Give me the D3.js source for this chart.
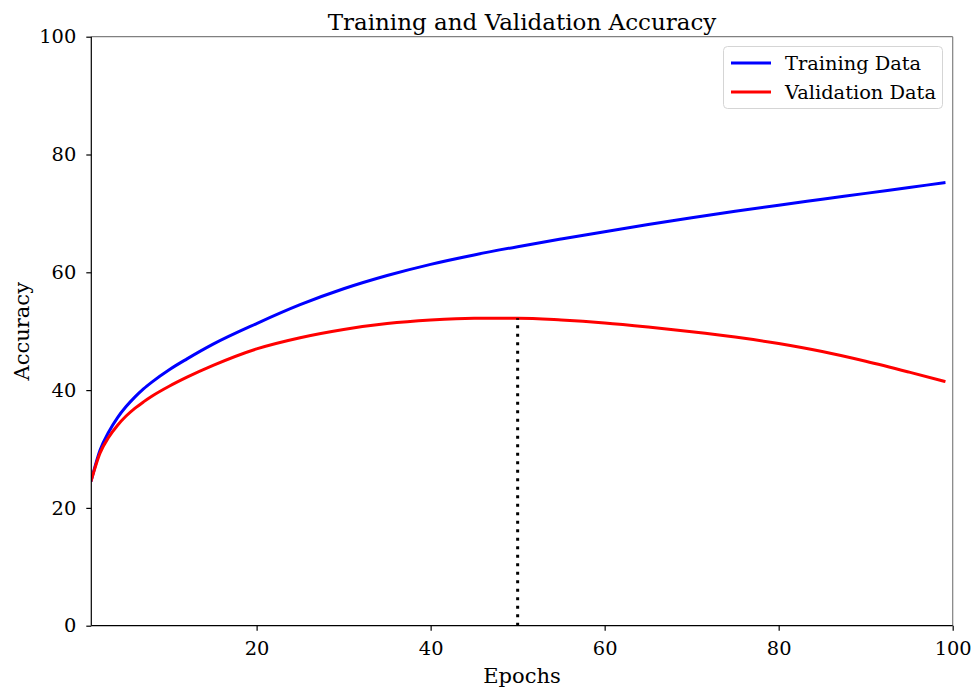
<!DOCTYPE html>
<html>
<head>
<meta charset="utf-8">
<script src="https://cdn.jsdelivr.net/npm/d3@7"></script>
<style>
  html, body { margin: 0; padding: 0; background: #fff; }
  svg { display: block; font-family: "DejaVu Serif", serif; }
</style>
</head>
<body>
<svg id="chart" width="973" height="689"></svg>
<script>
// ---- Data ----
const epochs = [1, 2, 3, 4, 5, 6, 7, 8, 10, 12, 15, 20, 25, 30, 35, 40, 45, 50, 55, 60, 65, 70, 75, 80, 85, 90, 95, 99];
const trainingAcc = [24.7, 29.8, 32.9, 35.3, 37.2, 38.8, 40.2, 41.4, 43.5, 45.3, 47.8, 51.3, 54.5, 57.2, 59.45, 61.35, 62.95, 64.35, 65.65, 66.9, 68.1, 69.25, 70.35, 71.4, 72.4, 73.4, 74.4, 75.2];
const validationAcc = [24.7, 29.3, 32.0, 34.0, 35.6, 36.9, 38.0, 39.0, 40.7, 42.2, 44.2, 47.0, 48.9, 50.3, 51.3, 51.9, 52.2, 52.2, 51.9, 51.4, 50.7, 49.9, 49.0, 47.9, 46.55, 44.9, 43.05, 41.5];
const bestEpoch = 50;
const bestValAcc = 52.2;
const xTicks = [20, 40, 60, 80, 100];
const yTicks = [0, 20, 40, 60, 80, 100];
const seriesNames = ["Training Data", "Validation Data"];
const seriesColors = ["#0000ff", "#ff0000"];
const titleText = "Training and Validation Accuracy";
const xLabel = "Epochs";
const yLabel = "Accuracy";

// ---- Layout ----
const svg = d3.select("#chart");
const pL = 91.3, pR = 952.7, pT = 36.7, pB = 625.7;

const x = d3.scaleLinear().domain([1, 100]).range([pL, pR]);
const y = d3.scaleLinear().domain([0, 100]).range([pB, pT]);

// plot background
svg.append("rect").attr("x", pL).attr("y", pT)
  .attr("width", pR - pL).attr("height", pB - pT).attr("fill", "#fff");

// top and right spines (gray)
svg.append("line").attr("x1", pL).attr("x2", pR).attr("y1", pT).attr("y2", pT)
  .attr("stroke", "#808080").attr("stroke-width", 1.2);
svg.append("line").attr("x1", pR).attr("x2", pR).attr("y1", pT).attr("y2", pB)
  .attr("stroke", "#808080").attr("stroke-width", 1.2);

// clip
svg.append("clipPath").attr("id", "clip").append("rect")
  .attr("x", pL).attr("y", pT).attr("width", pR - pL).attr("height", pB - pT);

// series
const series = [trainingAcc, validationAcc];
const line = d3.line()
  .x((d, i) => x(epochs[i]))
  .y(d => y(d))
  .curve(d3.curveMonotoneX);

series.forEach((vals, k) => {
  svg.append("path")
    .datum(vals)
    .attr("d", line)
    .attr("fill", "none")
    .attr("stroke", seriesColors[k])
    .attr("stroke-width", 3)
    .attr("stroke-linecap", "square")
    .attr("clip-path", "url(#clip)");
});

// dotted vertical line at best epoch
svg.append("line")
  .attr("x1", x(bestEpoch)).attr("x2", x(bestEpoch))
  .attr("y1", y(0)).attr("y2", y(bestValAcc))
  .attr("stroke", "#000").attr("stroke-width", 3)
  .attr("stroke-dasharray", "3,5.5");

// axes
const xAxis = d3.axisBottom(x).tickValues(xTicks).tickSize(5).tickPadding(11).tickFormat(d3.format("d"));
const yAxis = d3.axisLeft(y).tickValues(yTicks).tickSize(5).tickPadding(10).tickFormat(d3.format("d"));

const gx = svg.append("g").attr("transform", `translate(0,${pB})`).call(xAxis);
const gy = svg.append("g").attr("transform", `translate(${pL},0)`).call(yAxis);

[gx, gy].forEach(g => {
  g.select(".domain").attr("stroke", "#000").attr("stroke-width", 1.2);
  g.selectAll(".tick line").attr("stroke", "#000").attr("stroke-width", 1.2);
  g.selectAll(".tick text").attr("fill", "#000")
    .style("font-family", "'DejaVu Serif', serif").style("font-size", "19.4px");
});
gx.select(".domain").attr("d", `M${pL},0H${pR}`);
gy.select(".domain").attr("d", `M0,${pB}V${pT}`);

// title
svg.append("text").attr("x", (pL + pR) / 2).attr("y", 30)
  .attr("text-anchor", "middle").style("font-size", "23px").attr("fill", "#000")
  .text(titleText);

// axis labels
svg.append("text").attr("x", (pL + pR) / 2).attr("y", 683)
  .attr("text-anchor", "middle").style("font-size", "21px").attr("fill", "#000")
  .text(xLabel);
svg.append("text")
  .attr("transform", `translate(29,${(pT + pB) / 2}) rotate(-90)`)
  .attr("text-anchor", "middle").style("font-size", "21px").attr("fill", "#000")
  .text(yLabel);

// legend
const lg = svg.append("g");
lg.append("rect").attr("x", 723.5).attr("y", 46.5).attr("width", 219).attr("height", 62)
  .attr("rx", 4).attr("fill", "#fff").attr("fill-opacity", 0.8)
  .attr("stroke", "#d5d5d5").attr("stroke-width", 1);
seriesNames.forEach((name, k) => {
  const yy = 63 + k * 29;
  lg.append("line").attr("x1", 731).attr("x2", 771).attr("y1", yy).attr("y2", yy)
    .attr("stroke", seriesColors[k]).attr("stroke-width", 3);
  lg.append("text").attr("x", 785).attr("y", yy + 7)
    .style("font-size", "19.4px").attr("fill", "#000").text(name);
});
</script>
</body>
</html>
